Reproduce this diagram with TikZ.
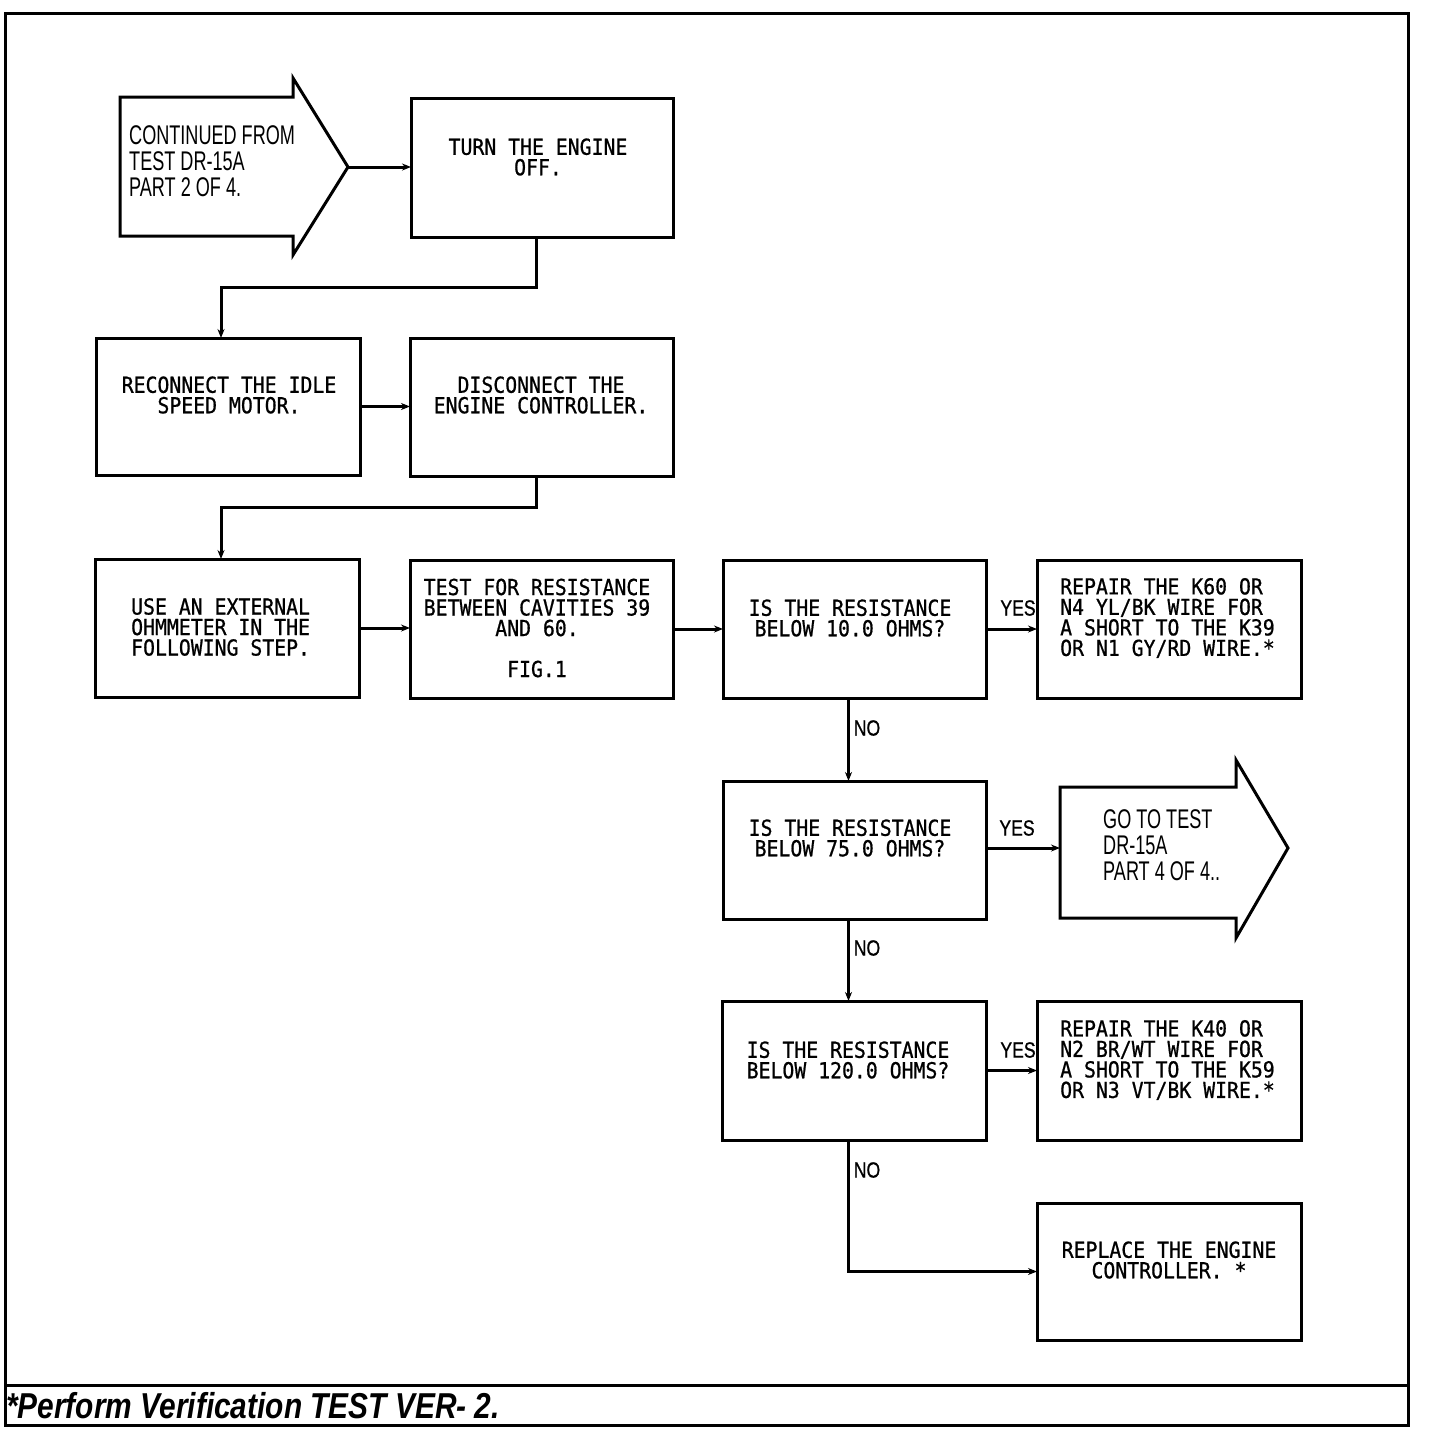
\documentclass[tikz,border=0pt]{standalone}
\usepackage{fontspec}
\usetikzlibrary{arrows.meta}
\newfontfamily\plotfont[FakeStretch=0.9,FakeBold=0.8]{DejaVu Sans Mono}
\newfontfamily\arrowfont[FakeStretch=0.67]{Liberation Sans}
\newfontfamily\lblfont[FakeStretch=0.8,FakeBold=0.8]{Liberation Sans}
\newfontfamily\footfont[FakeStretch=0.83]{Liberation Sans}
\tikzset{
  box/.style={draw, line width=3pt, inner sep=0pt, outer sep=0pt, anchor=north west},
  ptext/.style={font=\plotfont\fontsize{22}{20.5}\selectfont, inner sep=0pt},
  atext/.style={font=\arrowfont\fontsize{27}{26}\selectfont, inner sep=0pt, align=left, anchor=west},
  lbl/.style={font=\lblfont\fontsize{22}{24}\selectfont, inner sep=0pt},
  conn/.style={line width=3pt, -{Stealth[length=9pt,width=7pt]}},
  frame/.style={line width=3pt}
}
\begin{document}
\begin{tikzpicture}[x=1pt,y=-1pt]
\useasboundingbox (0,0) rectangle (1440,1428);
\fill[white] (0,0) rectangle (1440,1428);
% frame
\draw[frame] (5,13) rectangle (1408,1425);
\draw[frame] (5,1385) -- (1408,1385);
\node[font=\footfont\fontsize{36}{38}\selectfont\bfseries\itshape, inner sep=0pt, anchor=west] (foot) at (6,1406) {*Perform Verification TEST VER- 2.};

% start arrow
\draw[line width=3pt, line join=miter] (120,97) -- (293,97) -- (293,78) -- (348,167) -- (293,255) -- (293,236) -- (120,236) -- cycle;
\coordinate (a1tip) at (348,167);
\node[atext] (a1txt) at (129,161) {CONTINUED FROM\\TEST DR-15A\\PART 2 OF 4.};

% boxes
\node[box, minimum width=262pt, minimum height=139pt] (turn) at (411,98) {};
\node[box, minimum width=264pt, minimum height=137pt] (reconnect) at (96,338) {};
\node[box, minimum width=263pt, minimum height=138pt] (disconnect) at (410,338) {};
\node[box, minimum width=264pt, minimum height=138pt] (use) at (95,559) {};
\node[box, minimum width=263pt, minimum height=138pt] (test) at (410,560) {};
\node[box, minimum width=263pt, minimum height=138pt] (is1) at (723,560) {};
\node[box, minimum width=264pt, minimum height=138pt] (repair1) at (1037,560) {};
\node[box, minimum width=263pt, minimum height=138pt] (is2) at (723,781) {};
\node[box, minimum width=264pt, minimum height=139pt] (is3) at (722,1001) {};
\node[box, minimum width=264pt, minimum height=139pt] (repair2) at (1037,1001) {};
\node[box, minimum width=264pt, minimum height=137pt] (replace) at (1037,1203) {};

% end arrow
\draw[line width=3pt, line join=miter] (1060,787) -- (1236,787) -- (1236,760) -- (1288,848) -- (1236,938) -- (1236,918) -- (1060,918) -- cycle;
\coordinate (a2in) at (1060,848);
\node[atext] (a2txt) at (1103,845) {GO TO TEST\\DR-15A\\PART 4 OF 4..};

% box texts
\node[ptext, align=center] (turntxt) at (538,157) {TURN THE ENGINE\\OFF.};
\node[ptext, align=center] (recontxt) at (229,395) {RECONNECT THE IDLE\\SPEED MOTOR.};
\node[ptext, align=center] (disctxt) at (541,395) {DISCONNECT THE\\ENGINE CONTROLLER.};
\node[ptext, align=left, anchor=west] (usetxt) at (131,627) {USE AN EXTERNAL\\OHMMETER IN THE\\FOLLOWING STEP.};
\node[ptext, align=center] (testtxt) at (537,628) {TEST FOR RESISTANCE\\BETWEEN CAVITIES 39\\AND 60.\\[20.5pt]FIG.1};
\node[ptext, align=center] (is1txt) at (850,618) {IS THE RESISTANCE\\BELOW 10.0 OHMS?};
\node[ptext, align=left, anchor=west] (rep1txt) at (1060,618) {REPAIR THE K60 OR\\N4 YL/BK WIRE FOR\\A SHORT TO THE K39\\OR N1 GY/RD WIRE.*};
\node[ptext, align=center] (is2txt) at (850,838) {IS THE RESISTANCE\\BELOW 75.0 OHMS?};
\node[ptext, align=center] (is3txt) at (848,1060) {IS THE RESISTANCE\\BELOW 120.0 OHMS?};
\node[ptext, align=left, anchor=west] (rep2txt) at (1060,1060) {REPAIR THE K40 OR\\N2 BR/WT WIRE FOR\\A SHORT TO THE K59\\OR N3 VT/BK WIRE.*};
\node[ptext, align=center] (repltxt) at (1169,1260) {REPLACE THE ENGINE\\CONTROLLER. *};

% connectors
\draw[conn] (a1tip) -- (a1tip -| turn.west);
\draw[conn] ([xshift=-6pt]turn.south) -- ++(0,50) -| ([xshift=-7pt]reconnect.north);
\draw[conn] (reconnect.east) -- (reconnect.east -| disconnect.west);
\draw[conn] ([xshift=-5pt]disconnect.south) -- ++(0,31) -| ([xshift=-6pt]use.north);
\draw[conn] (use.east) -- (use.east -| test.west);
\draw[conn] (test.east) -- (test.east -| is1.west);
\draw[conn] (is1.east) -- (is1.east -| repair1.west);
\draw[conn] ([xshift=-6pt]is1.south) -- ([xshift=-6pt]is1.south |- is2.north);
\draw[conn] (is2.east |- a2in) -- (a2in);
\draw[conn] ([xshift=-6pt]is2.south) -- ([xshift=-6pt]is2.south |- is3.north);
\draw[conn] (is3.east) -- (is3.east -| repair2.west);
\draw[conn] ([xshift=-6pt]is3.south) |- (replace.west);

% labels
\node[lbl] (yes1) at (1018,608) {YES};
\node[lbl] (no1) at (867,728) {NO};
\node[lbl] (yes2) at (1017,828) {YES};
\node[lbl] (no2) at (867,948) {NO};
\node[lbl] (yes3) at (1018,1050) {YES};
\node[lbl] (no3) at (867,1170) {NO};
\end{tikzpicture}
\end{document}
